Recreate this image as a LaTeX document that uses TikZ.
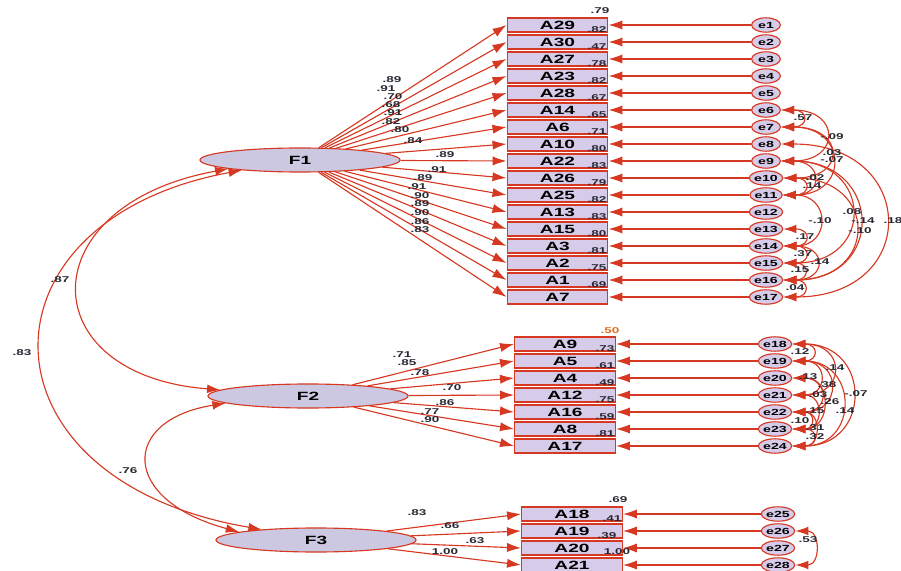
\documentclass[tikz,border=0pt]{standalone}
\usepackage{fontspec}
\setmainfont{Liberation Sans}
\newfontfamily\amosfont[FakeStretch=1.6]{Liberation Sans}
\usetikzlibrary{arrows.meta, shapes.geometric}
\definecolor{pathcol}{RGB}{214, 56, 34}
\definecolor{boxfill}{RGB}{214, 204, 234}
\definecolor{latfill}{RGB}{204, 200, 226}
\definecolor{estcol}{RGB}{40, 40, 50}
\definecolor{r2col}{RGB}{226, 110, 30}

\begin{document}
\begin{tikzpicture}[x=0.025cm, y=-0.025cm,
      item/.style={rectangle,fill=boxfill,draw=pathcol,thick,minimum width=2.52cm,minimum height=0.35cm,inner sep=0pt,font=\amosfont\fontsize{8.5}{9}\selectfont\bfseries},
      err/.style={ellipse,fill=boxfill,draw=pathcol,thick,minimum width=0.72cm,minimum height=0.36cm,inner sep=0pt,font=\amosfont\fontsize{6.3}{7}\selectfont\bfseries},
      lat/.style={ellipse,fill=latfill,draw=pathcol,thick,minimum width=5cm,minimum height=0.6cm,inner sep=0pt,font=\amosfont\fontsize{8.5}{9}\selectfont\bfseries},
      load/.style={pathcol,line width=0.8pt,-{Latex[length=3.5mm,width=2.3mm]}},
      cov/.style={pathcol,line width=0.8pt,{Latex[length=3.3mm,width=2.2mm]}-{Latex[length=3.3mm,width=2.2mm]},out=0,in=0},
      est/.style={font=\amosfont\fontsize{6}{6}\selectfont\bfseries,text=estcol,inner sep=0pt}]
    \useasboundingbox (0,0) rectangle (901,571);
    % latent factors
    \node[lat] (F1) at (300,160) {F1};
    \node[lat] (F2) at (308,396) {F2};
    \node[lat] (F3) at (316,540) {F3};
    % items of F1
    \node[item] (A29) at (557.5,25)  {A29};
    \node[item] (A30) at (557.5,42)  {A30};
    \node[item] (A27) at (557.5,59)  {A27};
    \node[item] (A23) at (557.5,76)  {A23};
    \node[item] (A28) at (557.5,93)  {A28};
    \node[item] (A14) at (557.5,110) {A14};
    \node[item] (A6)  at (557.5,127) {A6};
    \node[item] (A10) at (557.5,144) {A10};
    \node[item] (A22) at (557.5,161) {A22};
    \node[item] (A26) at (557.5,178) {A26};
    \node[item] (A25) at (557.5,195) {A25};
    \node[item] (A13) at (557.5,212) {A13};
    \node[item] (A15) at (557.5,229) {A15};
    \node[item] (A3)  at (557.5,246) {A3};
    \node[item] (A2)  at (557.5,263) {A2};
    \node[item] (A1)  at (557.5,280) {A1};
    \node[item] (A7)  at (557.5,297) {A7};
    % items of F2
    \node[item] (A9)  at (565,344) {A9};
    \node[item] (A5)  at (565,361) {A5};
    \node[item] (A4)  at (565,378) {A4};
    \node[item] (A12) at (565,395) {A12};
    \node[item] (A16) at (565,412) {A16};
    \node[item] (A8)  at (565,429) {A8};
    \node[item] (A17) at (565,446) {A17};
    % items of F3
    \node[item] (A18) at (572,514) {A18};
    \node[item] (A19) at (572,531) {A19};
    \node[item] (A20) at (572,548) {A20};
    \node[item] (A21) at (572,565) {A21};
    % error terms
    \node[err] (e1)  at (766,25)  {e1};
    \node[err] (e2)  at (766,42)  {e2};
    \node[err] (e3)  at (766,59)  {e3};
    \node[err] (e4)  at (766,76)  {e4};
    \node[err] (e5)  at (766,93)  {e5};
    \node[err] (e6)  at (766,110) {e6};
    \node[err] (e7)  at (766,127) {e7};
    \node[err] (e8)  at (766,144) {e8};
    \node[err] (e9)  at (766,161) {e9};
    \node[err] (e10) at (766,178) {e10};
    \node[err] (e11) at (766,195) {e11};
    \node[err] (e12) at (766,212) {e12};
    \node[err] (e13) at (766,229) {e13};
    \node[err] (e14) at (766,246) {e14};
    \node[err] (e15) at (766,263) {e15};
    \node[err] (e16) at (766,280) {e16};
    \node[err] (e17) at (766,297) {e17};
    \node[err] (e18) at (775,344) {e18};
    \node[err] (e19) at (775,361) {e19};
    \node[err] (e20) at (775,378) {e20};
    \node[err] (e21) at (775,395) {e21};
    \node[err] (e22) at (775,412) {e22};
    \node[err] (e23) at (775,429) {e23};
    \node[err] (e24) at (775,446) {e24};
    \node[err] (e25) at (778,514) {e25};
    \node[err] (e26) at (778,531) {e26};
    \node[err] (e27) at (778,548) {e27};
    \node[err] (e28) at (778,565) {e28};
    % loadings
    \draw[load] (F1) -- (A29.west);
    \draw[load] (F1) -- (A30.west);
    \draw[load] (F1) -- (A27.west);
    \draw[load] (F1) -- (A23.west);
    \draw[load] (F1) -- (A28.west);
    \draw[load] (F1) -- (A14.west);
    \draw[load] (F1) -- (A6.west);
    \draw[load] (F1) -- (A10.west);
    \draw[load] (F1) -- (A22.west);
    \draw[load] (F1) -- (A26.west);
    \draw[load] (F1) -- (A25.west);
    \draw[load] (F1) -- (A13.west);
    \draw[load] (F1) -- (A15.west);
    \draw[load] (F1) -- (A3.west);
    \draw[load] (F1) -- (A2.west);
    \draw[load] (F1) -- (A1.west);
    \draw[load] (F1) -- (A7.west);
    \draw[load] (F2) -- (A9.west);
    \draw[load] (F2) -- (A5.west);
    \draw[load] (F2) -- (A4.west);
    \draw[load] (F2) -- (A12.west);
    \draw[load] (F2) -- (A16.west);
    \draw[load] (F2) -- (A8.west);
    \draw[load] (F2) -- (A17.west);
    \draw[load] (F3) -- (A18.west);
    \draw[load] (F3) -- (A19.west);
    \draw[load] (F3) -- (A20.west);
    \draw[load] (F3) -- (A21.west);
    % error paths
    \draw[load] (e1) -- (A29);
    \draw[load] (e2) -- (A30);
    \draw[load] (e3) -- (A27);
    \draw[load] (e4) -- (A23);
    \draw[load] (e5) -- (A28);
    \draw[load] (e6) -- (A14);
    \draw[load] (e7) -- (A6);
    \draw[load] (e8) -- (A10);
    \draw[load] (e9) -- (A22);
    \draw[load] (e10) -- (A26);
    \draw[load] (e11) -- (A25);
    \draw[load] (e12) -- (A13);
    \draw[load] (e13) -- (A15);
    \draw[load] (e14) -- (A3);
    \draw[load] (e15) -- (A2);
    \draw[load] (e16) -- (A1);
    \draw[load] (e17) -- (A7);
    \draw[load] (e18) -- (A9);
    \draw[load] (e19) -- (A5);
    \draw[load] (e20) -- (A4);
    \draw[load] (e21) -- (A12);
    \draw[load] (e22) -- (A16);
    \draw[load] (e23) -- (A8);
    \draw[load] (e24) -- (A17);
    \draw[load] (e25) -- (A18);
    \draw[load] (e26) -- (A19);
    \draw[load] (e27) -- (A20);
    \draw[load] (e28) -- (A21);
    % factor correlations
    \draw[cov] (F1.187) .. controls (30,205) and (30,375) .. (F2.176);
    \draw[cov] (F1.190) .. controls (-29,220) and (-29,480) .. (F3.169);
    \draw[cov] (F2.185) .. controls (120,420) and (120,500) .. (F3.174);
    % error covariances
    \draw[cov] (e6)  to[looseness=4.2] (e7);
    \draw[cov] (e6)  to[looseness=3]   (e9);
    \draw[cov] (e7)  to[looseness=3.2] (e10);
    \draw[cov] (e7)  to[looseness=2.5] (e11);
    \draw[cov] (e9)  to[looseness=3.1] (e11);
    \draw[cov] (e10) to[looseness=4.2] (e11);
    \draw[cov] (e11) to[looseness=2.4] (e14);
    \draw[cov] (e9)  to[looseness=2.3] (e15);
    \draw[cov] (e9)  to[looseness=2.2] (e16);
    \draw[cov] (e10) to[looseness=2.4] (e16);
    \draw[cov] (e8)  to[looseness=2.3] (e17);
    \draw[cov] (e13) to[looseness=4.2] (e14);
    \draw[cov] (e14) to[looseness=4.2] (e15);
    \draw[cov] (e14) to[looseness=3.3] (e16);
    \draw[cov] (e15) to[looseness=4]   (e16);
    \draw[cov] (e16) to[looseness=4]   (e17);
    \draw[cov] (e18) to[looseness=4]   (e19);
    \draw[cov] (e18) to[looseness=2.7] (e21);
    \draw[cov] (e19) to[looseness=2.7] (e21);
    \draw[cov] (e19) to[looseness=2.5] (e22);
    \draw[cov] (e20) to[looseness=2.8] (e22);
    \draw[cov] (e20) to[looseness=2]   (e23);
    \draw[cov] (e18) to[looseness=2]   (e24);
    \draw[cov] (e21) to[looseness=2.4] (e23);
    \draw[cov] (e19) to[looseness=2]   (e24);
    \draw[cov] (e22) to[looseness=3.5] (e23);
    \draw[cov] (e22) to[looseness=2.2] (e24);
    \draw[cov] (e23) to[looseness=4]   (e24);
    \draw[cov] (e26) to[looseness=1.9] (e28);
    % estimates of F1
    \node[est] (l29) at (392,80)  {.89};
    \node[est] (l30) at (386,89)  {.91};
    \node[est] (l27) at (393,97)  {.70};
    \node[est] (l23) at (391,105) {.68};
    \node[est] (l28) at (393,113) {.91};
    \node[est] (l14) at (391,122) {.82};
    \node[est] (l6)  at (400,130) {.80};
    \node[est] (l10) at (413,141) {.84};
    \node[est] (l22) at (445,155) {.89};
    \node[est] (l26) at (437,170) {.91};
    \node[est] (l25) at (423,178) {.89};
    \node[est] (l13) at (417,187) {.91};
    \node[est] (l15) at (420,196) {.90};
    \node[est] (l3)  at (420,204) {.89};
    \node[est] (l2)  at (420,213) {.90};
    \node[est] (l1)  at (420,222) {.86};
    \node[est] (l7)  at (420,230) {.83};
    % estimates of F2
    \node[est] (l9)  at (402,355) {.71};
    \node[est] (l5)  at (407,363) {.85};
    \node[est] (l4)  at (420,373) {.78};
    \node[est] (l12) at (452,388) {.70};
    \node[est] (l16) at (445,403) {.86};
    \node[est] (l8)  at (430,412) {.77};
    \node[est] (l17) at (430,420) {.90};
    % estimates of F3
    \node[est] (l18) at (417,513) {.83};
    \node[est] (l19) at (450,526) {.66};
    \node[est] (l20) at (475,541) {.63};
    \node[est] (l21) at (445,552) {1.00};
    % squared multiple correlations
    \node[est] (r29) at (600,11)  {.79};
    \node[est] (r30) at (597,30)  {.82};
    \node[est] (r27) at (597,47)  {.47};
    \node[est] (r23) at (597,64)  {.78};
    \node[est] (r28) at (597,81)  {.82};
    \node[est] (r14) at (597,98)  {.67};
    \node[est] (r6)  at (597,115) {.65};
    \node[est] (r10) at (597,132) {.71};
    \node[est] (r22) at (597,149) {.80};
    \node[est] (r26) at (597,166) {.83};
    \node[est] (r25) at (597,183) {.79};
    \node[est] (r13) at (597,200) {.82};
    \node[est] (r15) at (597,217) {.83};
    \node[est] (r3)  at (597,234) {.80};
    \node[est] (r2)  at (597,251) {.81};
    \node[est] (r1)  at (597,268) {.75};
    \node[est] (r7)  at (597,285) {.69};
    \node[est, text=r2col] (r9) at (610,331) {.50};
    \node[est] (r5)  at (605,349) {.73};
    \node[est] (r4)  at (605,366) {.61};
    \node[est] (r12) at (605,383) {.49};
    \node[est] (r16) at (605,400) {.75};
    \node[est] (r8)  at (605,417) {.59};
    \node[est] (r17) at (605,434) {.81};
    \node[est] (r18) at (618,500) {.69};
    \node[est] (r19) at (612,519) {.41};
    \node[est] (r20) at (607,536) {.39};
    \node[est] (r21) at (617,552) {1.00};
    % correlations and covariances
    \node[est] (c12) at (60,280)  {.87};
    \node[est] (c13) at (22,353)  {.83};
    \node[est] (c23) at (128,471) {.76};
    \node[est] (k1)  at (803,118) {.57};
    \node[est] (k2)  at (832,137) {-.09};
    \node[est] (k3)  at (832,153) {.03};
    \node[est] (k4)  at (832,160) {-.07};
    \node[est] (k5)  at (815,178) {.02};
    \node[est] (k6)  at (812,186) {.14};
    \node[est] (k7)  at (852,212) {.08};
    \node[est] (k8)  at (820,221) {-.10};
    \node[est] (k9)  at (863,221) {-.14};
    \node[est] (k10) at (893,221) {.18};
    \node[est] (k11) at (860,231) {-.10};
    \node[est] (k12) at (805,237) {.17};
    \node[est] (k13) at (803,254) {.37};
    \node[est] (k14) at (820,262) {.14};
    \node[est] (k15) at (800,270) {.15};
    \node[est] (k16) at (795,288) {.04};
    \node[est] (k17) at (800,352) {.12};
    \node[est] (k18) at (835,368) {.14};
    \node[est] (k19) at (808,377) {.13};
    \node[est] (k20) at (827,385) {.38};
    \node[est] (k21) at (818,395) {.03};
    \node[est] (k22) at (856,394) {-.07};
    \node[est] (k23) at (830,402) {.26};
    \node[est] (k24) at (815,411) {.15};
    \node[est] (k25) at (845,411) {.14};
    \node[est] (k26) at (800,421) {.10};
    \node[est] (k27) at (815,428) {.31};
    \node[est] (k28) at (815,437) {.32};
    \node[est] (k29) at (808,540) {.53};
  \end{tikzpicture}
\end{document}
